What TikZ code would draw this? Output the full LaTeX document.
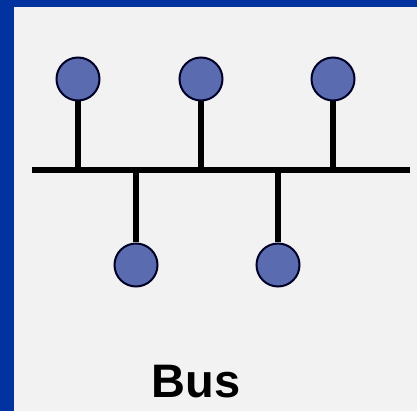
\documentclass[tikz,border=0pt]{standalone}
\usepackage{fontspec}
\setmainfont{Liberation Sans}
\usepackage{tikz}
\definecolor{frameblue}{HTML}{0033A0}
\definecolor{panelgray}{HTML}{F2F2F2}
\definecolor{hostblue}{HTML}{5B6BB0}
\tikzset{host/.style={circle, fill=hostblue, draw=black!85!blue, line width=2pt, minimum size=43pt, inner sep=0pt}}
\begin{document}
\begin{tikzpicture}[x=1pt,y=-1pt]
\useasboundingbox (0,0) rectangle (417,411);
\fill[frameblue] (0,0) rectangle (417,411);
\fill[panelgray] (14,7) rectangle (417,411);
\coordinate (left) at (32,170);
\coordinate (right) at (410,170);
\coordinate (b1) at (78,170);
\coordinate (b2) at (136,170);
\coordinate (b3) at (201,170);
\coordinate (b4) at (278,170);
\coordinate (b5) at (333,170);
% draws hosts
\node[host] (h1) at (78,79){};
\node[host] (h2) at (136,265){};
\node[host] (h3) at (201,79){};
\node[host] (h4) at (278,265){};
\node[host] (h5) at (333,79){};
\begin{scope}[line width=5.5pt]
% draws bus and drops
\draw (left) to (right);
\draw (b1) to (h1);
\draw (b2) to (h2);
\draw (b3) to (h3);
\draw (b4) to (h4);
\draw (b5) to (h5);
\end{scope}
% label
\node[anchor=base, font=\bfseries\fontsize{47}{47}\selectfont, inner sep=0pt] (lbl) at (196,397) {Bus};
\end{tikzpicture}
\end{document}
